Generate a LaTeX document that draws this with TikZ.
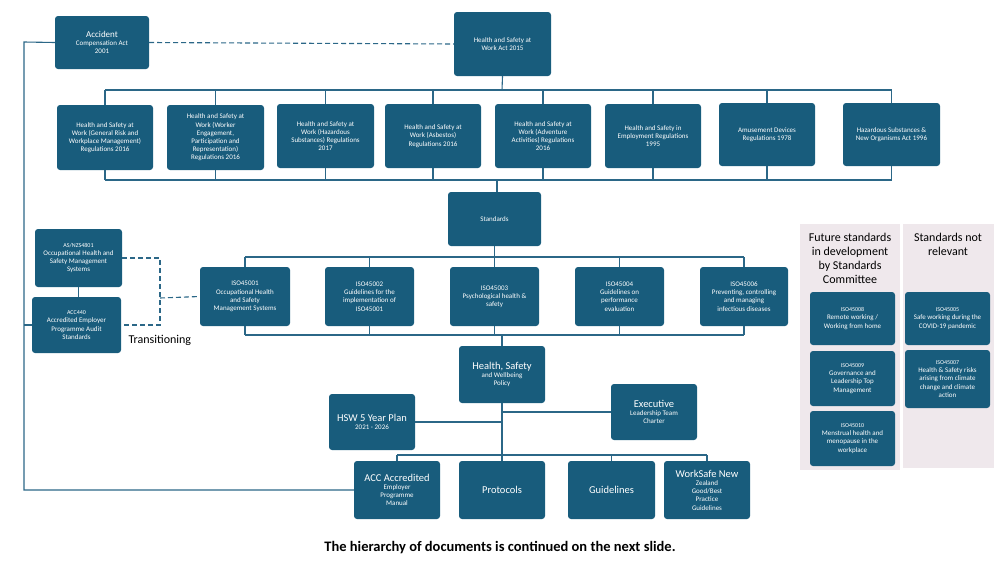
\documentclass[tikz,border=0pt]{standalone}
\usepackage{fontspec}
\setmainfont{Carlito}
\begin{document}
\begin{tikzpicture}[x=1pt,y=-1pt,
  bx/.style={fill=boxc,rounded corners=3pt,text=white,align=center,inner sep=0pt,font=\fontsize{7}{8.2}\selectfont},
  ln/.style={draw=linec,line width=1.1pt},
  dl/.style={draw=linec,line width=1.1pt,dash pattern=on 5pt off 3pt}]
\definecolor{boxc}{HTML}{185C7C}
\definecolor{linec}{HTML}{2B6787}
\definecolor{panel}{HTML}{EFE8EC}
\useasboundingbox (0,0) rectangle (1003,565);
\newcommand\bxn[6]{\node[bx,minimum width=#4-#2,minimum height=#5-#3] (#1) at ({(#2+#4)/2},{(#3+#5)/2}) {#6};}
% panels
\fill[panel] (800,224) rectangle (900,470);
\fill[panel] (903,224) rectangle (994,468);
\node[align=center,font=\fontsize{12}{14}\selectfont] (fh) at (850,258) {Future standards\\in development\\by Standards\\Committee};
\node[align=center,font=\fontsize{12}{14}\selectfont] (nh) at (948,244) {Standards not\\relevant};
% top
\bxn{acc}{55}{16}{149}{69}{\fontsize{9}{10.5}\selectfont Accident\\Compensation Act\\2001}
\bxn{act}{454}{12}{551}{76}{Health and Safety at\\Work Act 2015}
\bxn{r1}{57}{105}{153}{170}{Health and Safety at\\Work (General Risk and\\Workplace Management)\\Regulations 2016}
\bxn{r2}{167}{105}{264}{170}{Health and Safety at\\Work (Worker\\Engagement,\\Participation and\\Representation)\\Regulations 2016}
\bxn{r3}{277}{104}{374}{168}{Health and Safety at\\Work (Hazardous\\Substances) Regulations\\2017}
\bxn{r4}{385}{104}{481}{168}{Health and Safety at\\Work (Asbestos)\\Regulations 2016}
\bxn{r5}{495}{104}{591}{168}{Health and Safety at\\Work (Adventure\\Activities) Regulations\\2016}
\bxn{r6}{605}{104}{701}{168}{Health and Safety in\\Employment Regulations\\1995}
\bxn{r7}{719}{103}{815}{166}{Amusement Devices\\Regulations 1978}
\bxn{r8}{843}{103}{940}{166}{Hazardous Substances \&\\New Organisms Act 1996}
\bxn{std}{448}{192}{541}{246}{Standards}
\bxn{i1}{200}{267}{290}{326}{ISO45001\\Occupational Health\\and Safety\\Management Systems}
\bxn{i2}{325}{267}{414}{326}{ISO45002\\Guidelines for the\\implementation of\\ISO45001}
\bxn{i3}{450}{267}{539}{326}{ISO45003\\Psychological health \&\\safety}
\bxn{i4}{575}{267}{664}{326}{ISO45004\\Guidelines on\\performance\\evaluation}
\bxn{i6}{700}{267}{788}{326}{ISO45006\\Preventing, controlling\\and managing\\infectious diseases}
\bxn{as}{35}{229}{122}{287}{\fontsize{6}{7.3}\selectfont AS/NZS4801\\Occupational Health and\\Safety Management\\Systems}
\bxn{a440}{32}{297}{121}{353}{\fontsize{6}{7.3}\selectfont ACC440\\Accredited Employer\\Programme Audit\\Standards}
\node[anchor=west,font=\fontsize{12}{14}\selectfont] (tr) at (125,340) {Transitioning};
\bxn{pol}{459}{346}{545}{403}{\fontsize{10.5}{12}\selectfont Health, Safety\\and Wellbeing\\Policy}
\bxn{plan}{329}{394}{415}{450}{\fontsize{10.5}{12}\selectfont HSW 5 Year Plan\\2021 - 2026}
\bxn{exe}{611}{384}{697}{440}{\fontsize{10.5}{12}\selectfont Executive\\Leadership Team\\Charter}
\bxn{man}{354}{461}{440}{519}{\fontsize{10.5}{12}\selectfont ACC Accredited\\Employer\\Programme\\Manual}
\bxn{pro}{459}{461}{545}{519}{\fontsize{10.5}{12}\selectfont Protocols}
\bxn{gui}{568}{461}{655}{519}{\fontsize{10.5}{12}\selectfont Guidelines}
\bxn{ws}{664}{461}{750}{519}{\fontsize{10.5}{12}\selectfont WorkSafe New\\Zealand\\Good/Best\\Practice\\Guidelines}
\bxn{f8}{810}{292}{895}{345}{\fontsize{6}{7.3}\selectfont ISO45008\\Remote working /\\Working from home}
\bxn{f9}{810}{351}{895}{406}{\fontsize{6}{7.3}\selectfont ISO45009\\Governance and\\Leadership Top\\Management}
\bxn{f10}{810}{411}{895}{466}{\fontsize{6}{7.3}\selectfont ISO45010\\Menstrual health and\\menopause in the\\workplace}
\bxn{n5}{905}{292}{990}{345}{\fontsize{6}{7.3}\selectfont ISO45005\\Safe working during the\\COVID-19 pandemic}
\bxn{n7}{905}{350}{990}{408}{\fontsize{6}{7.3}\selectfont ISO45007\\Health \& Safety risks\\arising from climate\\change and climate\\action}
\node[font=\bfseries\fontsize{14.5}{16}\selectfont] (cap) at (500,548) {The hierarchy of documents is continued on the next slide.};
% connectors
\draw[dl] (acc.east) -- (act.west);
\coordinate (tb) at (502,90);
\draw[ln] (act.south) -- (tb);
\draw[ln] (r1.north|-tb) -- (r8.north|-tb);
\foreach \n in {r1,r2,r3,r4,r5,r6,r7,r8}{\draw[ln] (\n.north) -- (\n.north|-tb);}
\coordinate (bb) at (497,180);
\draw[ln] (r1.south|-bb) -- (r8.south|-bb);
\foreach \n in {r1,r2,r3,r4,r5,r6,r7,r8}{\draw[ln] (\n.south) -- (\n.south|-bb);}
\draw[ln] (bb) -- (bb|-std.north);
\coordinate (sb) at (494,257);
\draw[ln] (std.south) -- (std.south|-sb);
\draw[ln] (i1.north|-sb) -- (i6.north|-sb);
\foreach \n in {i1,i2,i3,i4,i6}{\draw[ln] (\n.north) -- (\n.north|-sb);}
\coordinate (ib) at (502,335);
\draw[ln] (i1.south|-ib) -- (i6.south|-ib);
\foreach \n in {i1,i2,i3,i4,i6}{\draw[ln] (\n.south) -- (\n.south|-ib);}
\draw[ln] (ib) -- (pol.north);
\coordinate (pb) at (502,455);
\draw[ln] (pol.south) -- (pb);
\draw[ln] (pol.south|-exe.west) -- (exe.west);
\draw[ln] (pol.south|-plan.east) -- (plan.east);
\draw[ln] (man.north|-pb) -- (ws.north|-pb);
\foreach \n in {man,pro,gui,ws}{\draw[ln] (\n.north) -- (\n.north|-pb);}
\coordinate (lt) at (24,42);
\coordinate (lb) at (24,490);
\draw[ln] (acc.west) -- (lt) -- (lb) -- (man.west);
\draw[ln] (a440.west) -- (a440.west-|lt);
\draw[ln] (as.south) -- (as.south|-a440.north);
\coordinate (dx) at (160,298);
\draw[dl] (as.east) -- (as.east-|dx) -- (a440.east-|dx) -- (a440.east);
\draw[dl] (dx) -- (i1.west);
\end{tikzpicture}
\end{document}
